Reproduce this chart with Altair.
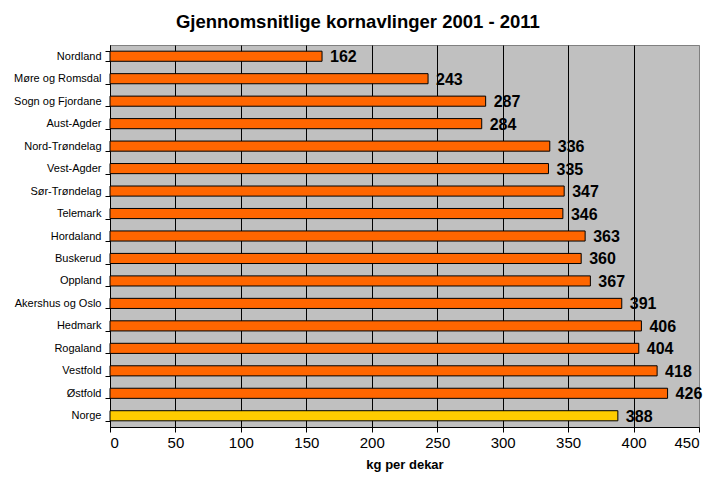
import altair as alt
import pandas as pd

regions = ["Nordland", "Møre og Romsdal", "Sogn og Fjordane", "Aust-Agder", "Nord-Trøndelag",
           "Vest-Agder", "Sør-Trøndelag", "Telemark", "Hordaland", "Buskerud", "Oppland",
           "Akershus og Oslo", "Hedmark", "Rogaland", "Vestfold", "Østfold", "Norge"]
values = [162, 243, 287, 284, 336, 335, 347, 346, 363, 360, 367, 391, 406, 404, 418, 426, 388]
kinds = ["fylke"] * 16 + ["land"]

df = pd.DataFrame({"region": regions, "value": values, "kind": kinds})

FONT = "Liberation Sans"

y_enc = alt.Y("region:N", sort=regions,
              scale=alt.Scale(paddingInner=0.55, paddingOuter=0.275),
              axis=alt.Axis(title=None, labelFont=FONT, labelFontSize=11, labelColor="black",
                            domainColor="black", tickColor="black", tickBand="extent",
                            tickSize=5, labelPadding=4, grid=False))
x_enc = alt.X("value:Q", scale=alt.Scale(domain=[0, 450], nice=False),
              axis=alt.Axis(title="kg per dekar", titleFont=FONT, titleFontSize=13,
                            titleFontWeight="bold", titleColor="black", titlePadding=8,
                            values=list(range(0, 451, 50)), labelFont=FONT, labelFontSize=15,
                            labelColor="black", domainColor="black", tickColor="black",
                            tickSize=5, labelPadding=3, grid=True,
                            gridColor=alt.condition("datum.value >= 450", alt.value("#808080"), alt.value("black")),
                            gridOpacity=1, gridWidth=1))

bars = alt.Chart(df).mark_bar(stroke="black", strokeWidth=1).encode(
    y=y_enc, x=x_enc,
    color=alt.Color("kind:N", scale=alt.Scale(domain=["fylke", "land"],
                                              range=["#FF6600", "#FFCC00"]), legend=None),
)

labels = alt.Chart(df).mark_text(align="left", baseline="middle", dx=8, dy=1,
                                 font=FONT, fontSize=16, fontWeight="bold", color="black").encode(
    y=alt.Y("region:N", sort=regions), x="value:Q", text="value:Q")

chart = alt.layer(bars, labels).properties(
    width=589, height=382,
    title=alt.TitleParams("Gjennomsnitlige kornavlinger 2001 - 2011", font=FONT, fontSize=18.5,
                          fontWeight="bold", color="black", anchor="middle", frame="bounds",
                          offset=8),
    background="white",
    padding={"left": 102, "top": 37, "right": 12, "bottom": 45},
    autosize=alt.AutoSizeParams(type="none"),
).configure_view(fill="#C0C0C0", stroke="#808080", strokeWidth=1)

chart.save("out.html", embed_options={"renderer": "svg", "actions": False})
